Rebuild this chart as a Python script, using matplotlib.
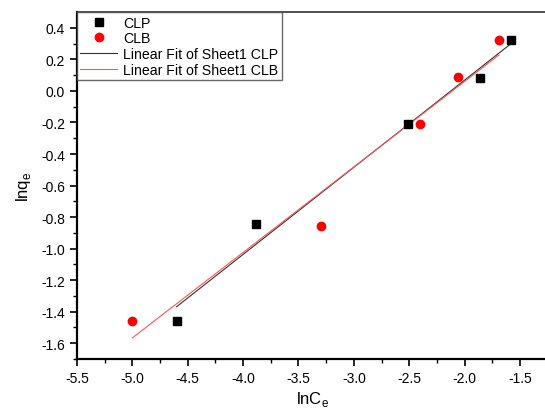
import numpy as np
import matplotlib.pyplot as plt

plt.rcParams['font.family'] = ['Liberation Sans', 'DejaVu Sans']
plt.rcParams['mathtext.fontset'] = 'custom'
plt.rcParams['mathtext.rm'] = 'Liberation Sans'

# lnCe / lnqe values
clp_x = [-4.60, -3.88, -2.51, -1.86, -1.58]
clp_y = [-1.46, -0.845, -0.209, 0.084, 0.324]
clb_x = [-5.00, -3.30, -2.40, -2.06, -1.69]
clb_y = [-1.46, -0.855, -0.21, 0.089, 0.324]
xticks = [-5.5, -5.0, -4.5, -4.0, -3.5, -3.0, -2.5, -2.0, -1.5]
yticks = [-1.6, -1.4, -1.2, -1.0, -0.8, -0.6, -0.4, -0.2, 0.0, 0.2, 0.4]

fig = plt.figure(figsize=(5.45, 4.10), dpi=100)
ax = fig.add_axes([0.141, 0.122, 0.864, 0.846])

ax.plot(clp_x, clp_y, 's', color='black', ms=5.5, label='CLP', zorder=3)
ax.plot(clb_x, clb_y, 'o', color='red', ms=6, label='CLB', zorder=3)

# linear fits over each data range
for xs, ys, c, lab in [(clp_x, clp_y, '#333333', 'Linear Fit of Sheet1 CLP'),
                       (clb_x, clb_y, '#ff5555', 'Linear Fit of Sheet1 CLB')]:
    k, b = np.polyfit(xs, ys, 1)
    xx = np.array([min(xs), max(xs)])
    ax.plot(xx, k*xx+b, '-', color=c, lw=0.8, label=lab)

ax.set_xlim(-5.5, -1.31)
ax.set_ylim(-1.7, 0.5)
ax.set_xticks(xticks)
ax.set_xticklabels(['%.1f' % v for v in xticks])
ax.set_xticks([v + 0.25 for v in xticks], minor=True)
ax.set_yticks(yticks)
ax.set_yticklabels(['%.1f' % v for v in yticks])
ax.set_yticks([round(v - 0.1, 2) for v in yticks], minor=True)

ax.tick_params(which='major', direction='out', length=5, width=1.2, labelsize=10,
               top=False, right=False)
ax.tick_params(which='minor', direction='out', length=3, width=1.0, top=False, right=False)
for s in ['left', 'bottom']:
    ax.spines[s].set_linewidth(1.6)
ax.spines['top'].set_linewidth(1.2)
ax.spines['top'].set_color('#333333')
ax.spines['right'].set_visible(False)

ax.set_xlabel('lnC$_\\mathregular{e}$', fontsize=12, labelpad=3)
ax.set_ylabel('lnq$_\\mathregular{e}$', fontsize=12, labelpad=6)

leg = ax.legend(loc='upper left', bbox_to_anchor=(0.0, 1.0), fontsize=10.2,
                frameon=True, fancybox=False, borderaxespad=0, handlelength=2.6,
                labelspacing=0.12, borderpad=0.25, handletextpad=0.4)
leg.get_frame().set_edgecolor('#444444')
leg.get_frame().set_linewidth(1.0)

fig.savefig('out.png', dpi=100)
